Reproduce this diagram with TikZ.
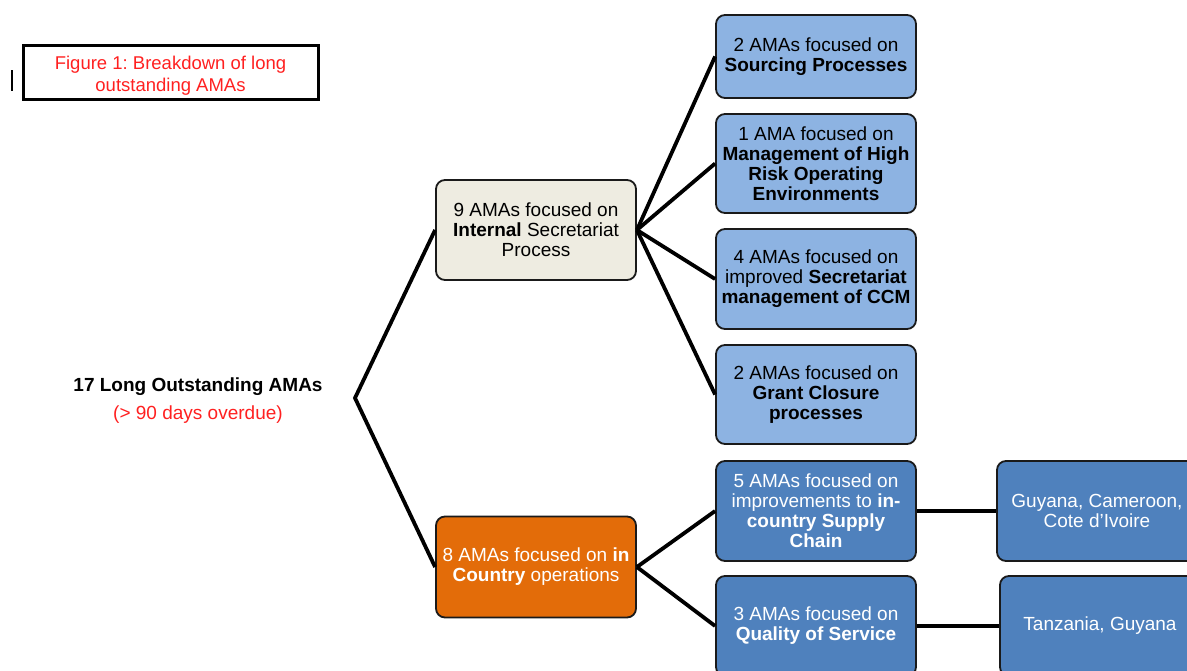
\documentclass[tikz,border=0pt]{standalone}
\usepackage{fontspec}
\setmainfont{Liberation Sans}
\frenchspacing
\definecolor{lblue}{HTML}{8DB3E2}
\definecolor{dblue}{HTML}{4F81BD}
\definecolor{beige}{HTML}{EEECE1}
\definecolor{orng}{HTML}{E36C09}
\definecolor{redtxt}{HTML}{FF2020}
\definecolor{edge}{HTML}{1A1A1A}
\tikzset{
  box/.style={draw=edge, line width=1.8pt, rounded corners=9pt, align=center,
    minimum width=200pt, inner sep=1pt, font=\fontsize{19}{20}\selectfont},
  light/.style={box, fill=lblue, text=black},
  dark/.style={box, fill=dblue, text=white},
  conn/.style={line width=3.8pt, black},
}
\begin{document}
\begin{tikzpicture}[x=1pt,y=-1pt]
\useasboundingbox (0,0) rectangle (1187,670);
\clip (0,0) rectangle (1187,670);
% cursor mark
\draw[line width=1.3pt] (12,70) -- (12,91);
% title
\draw[line width=3pt] (23,45) rectangle (318,99);
\node[align=center, text=redtxt, font=\fontsize{18.5}{22}\selectfont] (title) at (170.5,75.5)
  {Figure 1: Breakdown of long\\outstanding AMAs};
% root
\node[font=\fontsize{19}{20}\selectfont\bfseries] (root) at (198,387) {17 Long Outstanding AMAs};
\node[font=\fontsize{19}{20}\selectfont, text=redtxt] (rootsub) at (198,415) {(> 90 days overdue)};
\coordinate (j) at (355,398);
% level 1
\node[box, fill=beige, minimum height=100pt] (internal) at (536,230)
  {9 AMAs focused on\\\textbf{Internal} Secretariat\\Process};
\node[box, fill=orng, text=white, minimum height=101pt] (country) at (536,567)
  {8 AMAs focused on \textbf{in}\\\textbf{Country} operations};
% level 2
\node[light, minimum height=83pt] (sourcing) at (816,56.5)
  {2 AMAs focused on\\\textbf{Sourcing Processes}};
\node[light, minimum height=99pt] (mgmt) at (816,163.5)
  {1 AMA focused on\\\textbf{Management of High}\\\textbf{Risk Operating}\\\textbf{Environments}};
\node[light, minimum height=100pt] (secr) at (816,279)
  {4 AMAs focused on\\improved \textbf{Secretariat}\\\textbf{management of CCM}};
\node[light, minimum height=99pt] (grant) at (816,394.5)
  {2 AMAs focused on\\\textbf{Grant Closure}\\\textbf{processes}};
\node[dark, minimum height=100pt] (supply) at (816,511)
  {5 AMAs focused on\\improvements to \textbf{in-}\\\textbf{country Supply}\\\textbf{Chain}};
\node[dark, minimum height=100pt] (quality) at (816,626)
  {3 AMAs focused on\\\textbf{Quality of Service}};
% level 3
\node[dark, minimum height=100pt] (guyana) at (1097,511)
  {Guyana, Cameroon,\\Cote d’Ivoire};
\node[dark, minimum height=100pt] (tanz) at (1100,626)
  {Tanzania, Guyana};
% connectors
\draw[conn, line join=miter] (internal.west) -- (j) -- (country.west);
\foreach \t in {sourcing,mgmt,secr,grant}
  \draw[conn] (internal.east) -- (\t.west);
\foreach \t in {supply,quality}
  \draw[conn] (country.east) -- (\t.west);
\draw[conn] (supply.east) -- (guyana.west);
\draw[conn] (quality.east) -- (tanz.west);
\end{tikzpicture}
\end{document}
